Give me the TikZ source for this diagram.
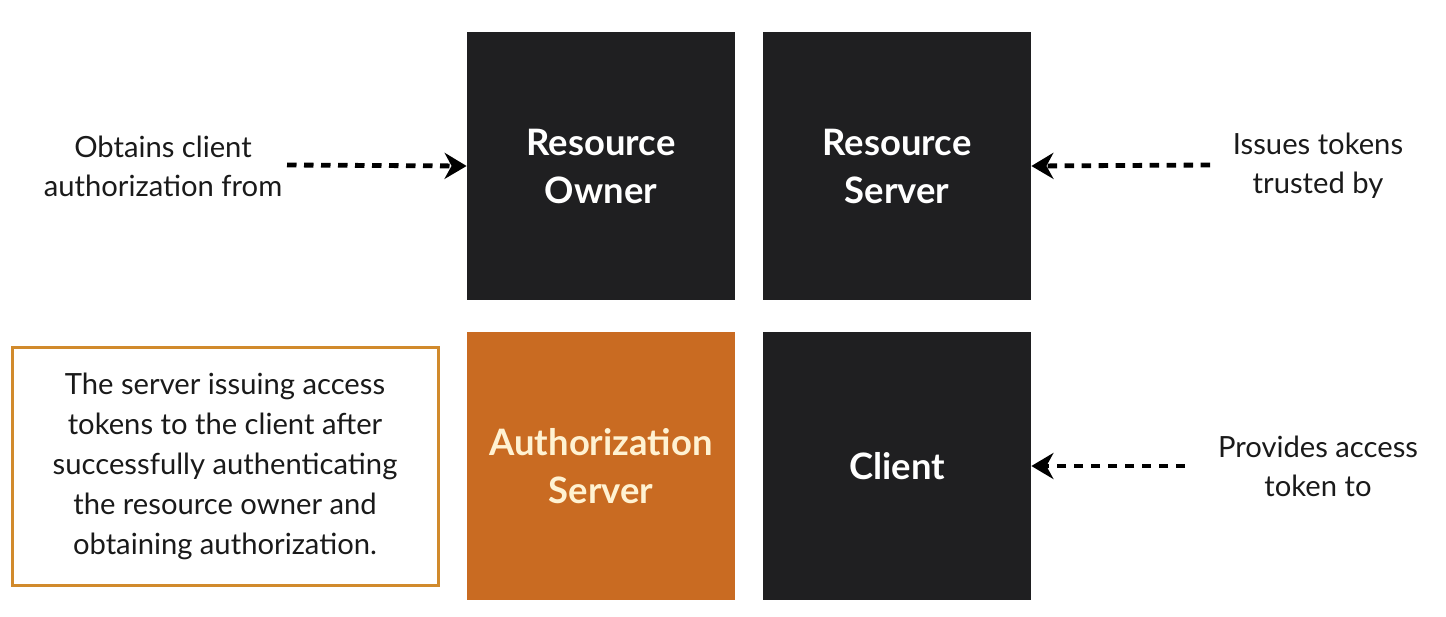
\documentclass[tikz,border=0pt]{standalone}
\usepackage{fontspec}
\setmainfont{Lato}
\usetikzlibrary{arrows.meta}
\definecolor{boxblack}{HTML}{1F1F21}
\definecolor{authorange}{HTML}{C96B22}
\definecolor{descborder}{HTML}{D18A2C}
\definecolor{authtext}{HTML}{FFF2D2}
\definecolor{txt}{HTML}{1A1A1A}
\begin{document}
\begin{tikzpicture}[x=0.5pt,y=-0.5pt,
  role/.style={minimum width=134pt, minimum height=134pt, inner sep=0pt, fill=boxblack, text=white, align=center, font=\fontsize{18.2}{24}\selectfont\bfseries},
  note/.style={align=center, text=txt, font=\fontsize{14.6}{19.5}\selectfont},
  link/.style={line width=2.4pt, dash pattern=on 4.75pt off 3.75pt, -{Stealth[length=11pt,width=13pt,inset=3.5pt]}}]
\useasboundingbox (0,0) rectangle (1446,616);
\node[role] (ro) at (601,166){Resource\\Owner};
\node[role] (rs) at (897,166){Resource\\Server};
\node[role, fill=authorange, text=authtext] (auth) at (601,466){Authorization\\Server};
\node[role] (cl) at (897,466){Client};
\node[draw=descborder, line width=1.5pt, minimum width=213pt, minimum height=119pt, note, font=\fontsize{14.6}{20}\selectfont] (desc) at (225,466){The server issuing access\\tokens to the client after\\successfully authenticating\\the resource owner and\\obtaining authorization.};
\node[note] (t0) at (163,166){Obtains client\\authorization from};
\node[note] (t1) at (1318,166){Issues tokens\\trusted by};
\node[note] (t2) at (1318,466){Provides access\\token to};
\coordinate (a0) at (287,165);
\coordinate (a1) at (1210,165);
\coordinate (a2) at (1185,466);
\draw[link](a0) -- (ro.west);
\draw[link](a1) -- (rs.east);
\draw[link](a2) -- (cl.east);
\end{tikzpicture}
\end{document}
